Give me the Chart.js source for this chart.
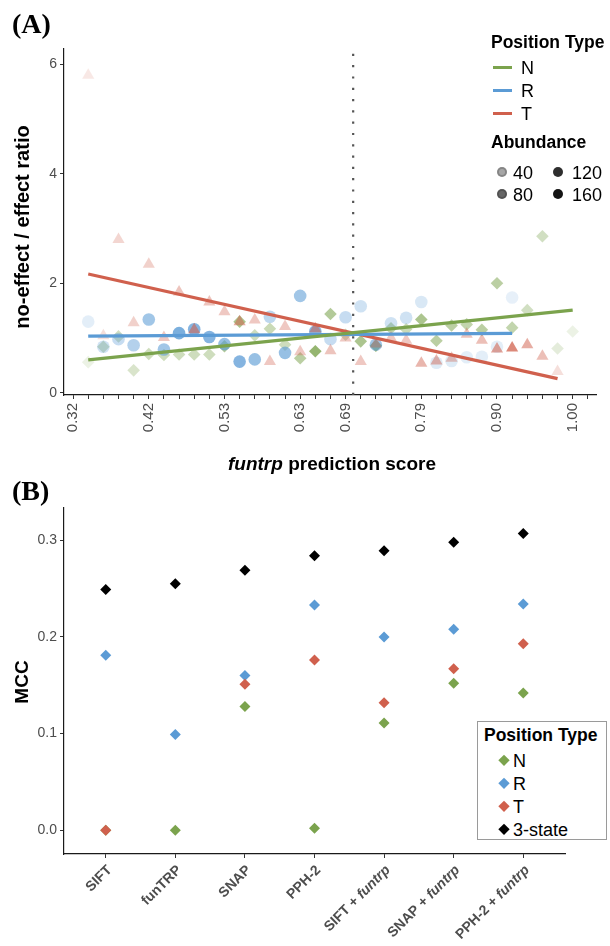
<!DOCTYPE html>
<html><head><meta charset="utf-8">
<script src="https://cdn.jsdelivr.net/npm/chart.js@4.4.1/dist/chart.umd.min.js"></script>
<style>
html,body{margin:0;padding:0;background:#fff}
body{width:610px;height:946px;position:relative;overflow:hidden;font-family:"Liberation Sans",Arial,sans-serif;color:#000}
.abs{position:absolute;white-space:nowrap}
.vc{transform:translateY(-50%);line-height:1}
.panel{font-family:"Liberation Serif","Times New Roman",serif;font-weight:bold;font-size:28px;line-height:1}
.ttl{font-weight:bold;font-size:17.5px}
.item{font-size:18px}
.sw{position:absolute;width:19px;height:3px}
.dot{position:absolute;width:10px;height:10px;border-radius:50%;transform:translate(-50%,-50%)}
.dia{position:absolute;width:7.5px;height:7.5px;transform:translate(-50%,-50%) rotate(45deg)}
canvas{position:absolute;left:0}
</style></head><body>
<canvas id="cA" width="610" height="480" style="top:0"></canvas>
<canvas id="cB" width="610" height="466" style="top:480px"></canvas>

<div class="abs panel" style="left:12px;top:10px">(A)</div>
<div class="abs panel" style="left:12px;top:477px">(B)</div>

<div class="abs ttl" style="left:22px;top:227px;transform:translate(-50%,-50%) rotate(-90deg);font-size:20px;line-height:1">no-effect / effect ratio</div>
<div class="abs ttl" style="left:332px;top:463px;transform:translate(-50%,-50%);font-size:19px;line-height:1"><i>funtrp</i> prediction score</div>
<div class="abs ttl" style="left:21px;top:682px;transform:translate(-50%,-50%) rotate(-90deg);font-size:19px;line-height:1">MCC</div>

<!-- legend A -->
<div class="abs ttl vc" style="left:491px;top:43px">Position Type</div>
<div class="sw" style="left:493px;top:66px;background:#7ba34d"></div>
<div class="abs item vc" style="left:521px;top:68px">N</div>
<div class="sw" style="left:493px;top:89px;background:#5b9bd5"></div>
<div class="abs item vc" style="left:521px;top:91px">R</div>
<div class="sw" style="left:493px;top:112px;background:#d0604d"></div>
<div class="abs item vc" style="left:521px;top:114px">T</div>
<div class="abs ttl vc" style="left:491px;top:143px">Abundance</div>
<div class="dot" style="left:502px;top:172px;background:rgba(0,0,0,0.35);box-shadow:inset 0 0 0 2px rgba(0,0,0,0.2)"></div>
<div class="abs item vc" style="left:513px;top:173px">40</div>
<div class="dot" style="left:502px;top:194px;background:rgba(0,0,0,0.6);box-shadow:inset 0 0 0 2px rgba(0,0,0,0.2)"></div>
<div class="abs item vc" style="left:513px;top:195px">80</div>
<div class="dot" style="left:558px;top:172px;background:rgba(0,0,0,0.82)"></div>
<div class="abs item vc" style="left:572px;top:173px">120</div>
<div class="dot" style="left:558px;top:194px;background:rgba(0,0,0,0.92)"></div>
<div class="abs item vc" style="left:572px;top:195px">160</div>

<!-- legend B -->
<div class="abs" style="left:477px;top:721px;width:128px;height:117px;border:1.5px solid #9a9a9a;background:#fff"></div>
<div class="abs ttl vc" style="left:484px;top:736px">Position Type</div>
<div class="dia" style="left:504px;top:760px;background:#7ba34d"></div>
<div class="abs item vc" style="left:513px;top:761px">N</div>
<div class="dia" style="left:504px;top:783px;background:#5b9bd5"></div>
<div class="abs item vc" style="left:513px;top:784px">R</div>
<div class="dia" style="left:504px;top:806px;background:#d0604d"></div>
<div class="abs item vc" style="left:513px;top:807px">T</div>
<div class="dia" style="left:504px;top:829px;background:#000"></div>
<div class="abs item vc" style="left:513px;top:830px">3-state</div>

<script>
// ---------- Panel A data ----------
const bins = [1,2,3,4,5,6,7,8,9,10,11,12,13,14,15,16,17,18,19,20,21,22,23,24,25,26,27,28,29,30,31,32,33];
const ratioN = [0.56,0.84,1.03,0.41,0.71,0.69,0.70,0.70,0.70,0.85,1.30,1.05,1.17,0.88,0.63,0.76,1.44,1.06,0.94,0.86,1.18,1.16,1.34,0.95,1.23,1.25,1.15,2.00,1.19,1.51,2.86,0.81,1.12];
const abundN = [15,50,50,40,55,55,55,55,55,90,100,55,60,55,80,130,90,50,100,120,70,60,100,80,80,70,80,80,70,50,50,25,15];
const ratioR = [1.30,0.84,0.98,0.87,1.34,0.79,1.09,1.16,1.02,0.89,0.57,0.61,1.39,0.73,1.77,1.12,0.98,1.38,1.58,0.88,1.27,1.37,1.66,0.55,0.58,0.65,0.66,0.84,1.74,null,null,null,null];
const abundR = [20,40,50,70,90,90,130,120,120,100,120,100,60,100,90,120,50,50,40,90,40,40,30,25,25,20,20,20,15,0,0,0,0];
const ratioT = [5.80,1.04,2.80,1.28,2.35,1.01,1.84,1.15,1.66,1.48,1.30,1.33,0.57,1.21,0.75,1.17,0.77,1.00,0.57,0.89,1.00,0.96,0.54,0.58,0.63,1.07,0.96,0.80,0.82,0.88,0.67,0.39,null];
const abundT = [15,25,35,40,40,50,55,90,55,50,80,50,50,50,50,80,55,50,50,50,50,50,70,70,55,55,60,90,120,80,60,25,0];
// linear fits: [startBin, endBin], [startValue, endValue]
const fitBinsN = [1,33], fitN = [0.60,1.51];
const fitBinsR = [1,29], fitR = [1.035,1.085];
const fitBinsT = [1,32], fitT = [2.17,0.26];
const cutoffBin = 18.5;
const scoreTickBins = [0,5,10,15,18,23,28,33];
const scoreTickLabels = ['0.32','0.42','0.53','0.63','0.69','0.79','0.90','1.00'];
const ratioTicks = [0,2,4,6];

// ---------- Panel B data ----------
const methods = ['SIFT','funTRP','SNAP','PPH-2','SIFT + funtrp','SNAP + funtrp','PPH-2 + funtrp'];
const mccN = [0.000,0.000,0.128,0.002,0.111,0.152,0.142];
const mccR = [0.181,0.099,0.160,0.233,0.200,0.208,0.234];
const mccT = [0.000,null,0.151,0.176,0.132,0.167,0.193];
const mcc3 = [0.249,0.255,0.269,0.284,0.289,0.298,0.307];
const mccTicks = [0,0.1,0.2,0.3];

const COL = {N:'#7ba34d', R:'#5b9bd5', T:'#d0604d', S:'#000000'};
function rgba(hex,a){const n=parseInt(hex.slice(1),16);return `rgba(${n>>16&255},${n>>8&255},${n&255},${a})`;}
function alphaOf(ab){return Math.max(0.1, Math.min(0.92, 0.06 + ab/175));}
const FONT = '"Liberation Sans", Arial, sans-serif';
const TICKCOL = '#4d4d4d';

function ptsAb(vals,ab){return bins.map((b,i)=>({x:b,y:vals[i],ab:ab[i]})).filter(p=>p.y!=null);}
function scatterDs(vals,ab,col,style,r,order){
  return {type:'scatter',data:ptsAb(vals,ab),pointStyle:style,pointRadius:r,pointHoverRadius:r,
    pointBorderWidth:0,borderWidth:0,order:order,
    pointBackgroundColor:(c)=>rgba(col,alphaOf(c.raw?c.raw.ab:50)),
    pointBorderColor:'rgba(0,0,0,0)',showLine:false};
}
function fitDs(b,v,col){
  return {type:'line',data:[{x:b[0],y:v[0]},{x:b[1],y:v[1]}],borderColor:col,borderWidth:3.3,
    pointRadius:0,fill:false,order:2,borderCapStyle:'butt'};
}

const axisCommon = (extra)=>Object.assign({
  border:{display:true,color:'#1a1a1a',width:1.2},
  grid:{display:true,drawOnChartArea:false,drawTicks:true,tickLength:4,color:'#333',lineWidth:1},
}, extra);

new Chart(document.getElementById('cA'),{
  data:{datasets:[
    scatterDs(ratioN,abundN,COL.N,'rectRot',6.3,12),
    scatterDs(ratioR,abundR,COL.R,'circle',6.3,11),
    scatterDs(ratioT,abundT,COL.T,'triangle',7,10),
    fitDs(fitBinsN,fitN,COL.N),
    fitDs(fitBinsR,fitR,COL.R),
    fitDs(fitBinsT,fitT,COL.T),
    {type:'line',data:[{x:cutoffBin,y:-0.04},{x:cutoffBin,y:6.28}],borderColor:'#555',borderWidth:2.2,
     borderDash:[2.2,9.1],pointRadius:0,order:1}
  ]},
  options:{
    responsive:false,animation:false,events:[],
    layout:{padding:{left:0,right:10,top:49,bottom:0}},
    plugins:{legend:{display:false},tooltip:{enabled:false}},
    scales:{
      x:axisCommon({type:'linear',min:-0.6,max:34.6,
        afterBuildTicks:(s)=>{s.ticks=[];for(let i=0;i<=34;i++)s.ticks.push({value:i});},
        afterFit:(s)=>{s.height=85;},
        ticks:{autoSkip:false,minRotation:90,maxRotation:90,padding:4,color:TICKCOL,font:{family:FONT,size:15},
          callback:(v)=>{const k=scoreTickBins.indexOf(v);return k>=0?scoreTickLabels[k]:'';}}}),
      y:axisCommon({type:'linear',min:-0.04,max:6.28,
        afterBuildTicks:(s)=>{s.ticks=ratioTicks.map(v=>({value:v}));},
        afterFit:(s)=>{s.width=64;},
        ticks:{padding:3,color:TICKCOL,font:{family:FONT,size:14},callback:(v)=>String(v)}})
    }
  }
});

const xLabelPlugin = {
  id:'xlab',
  afterDraw(chart){
    const ctx=chart.ctx, sx=chart.scales.x;
    ctx.save(); ctx.fillStyle=TICKCOL;
    methods.forEach((m,i)=>{
      const x=sx.getPixelForValue(i), y=sx.top+9;
      let parts;
      if(m.indexOf(' + ')>=0){const a=m.split(' + ');parts=[[a[0]+' + ','bold 14px '+FONT],[a[1],'italic bold 14px '+FONT]];}
      else parts=[[m,'bold 14px '+FONT]];
      let total=0; parts.forEach(p=>{ctx.font=p[1];p.w=ctx.measureText(p[0]).width;total+=p.w;});
      ctx.save(); ctx.translate(x-1,y); ctx.rotate(-Math.PI/4);
      ctx.textAlign='left'; ctx.textBaseline='top';
      let cx=-total; parts.forEach(p=>{ctx.font=p[1];ctx.fillText(p[0],cx,0);cx+=p.w;});
      ctx.restore();
    });
    ctx.restore();
  }
};

function mccDs(vals,col,order){
  return {type:'scatter',data:methods.map((m,i)=>({x:i,y:vals[i]})).filter(p=>p.y!=null),
    pointStyle:'rectRot',pointRadius:5.5,pointHoverRadius:5.5,pointBorderWidth:0,
    pointBackgroundColor:col,pointBorderColor:col,order:order};
}

new Chart(document.getElementById('cB'),{
  data:{datasets:[mccDs(mccN,COL.N,4),mccDs(mccR,COL.R,3),mccDs(mccT,COL.T,2),mccDs(mcc3,COL.S,1)]},
  options:{
    responsive:false,animation:false,events:[],
    layout:{padding:{left:0,right:45,top:28,bottom:0}},
    plugins:{legend:{display:false},tooltip:{enabled:false}},
    scales:{
      x:axisCommon({type:'linear',min:-0.6,max:6.6,
        afterBuildTicks:(s)=>{s.ticks=methods.map((m,i)=>({value:i}));},
        afterFit:(s)=>{s.height=92;},
        ticks:{display:false}}),
      y:axisCommon({type:'linear',min:-0.0245,max:0.3333,
        afterBuildTicks:(s)=>{s.ticks=mccTicks.map(v=>({value:v}));},
        afterFit:(s)=>{s.width=64;},
        ticks:{padding:3,color:TICKCOL,font:{family:FONT,size:14},callback:(v)=>v.toFixed(1)}})
    }
  },
  plugins:[xLabelPlugin]
});
</script>
</body></html>
